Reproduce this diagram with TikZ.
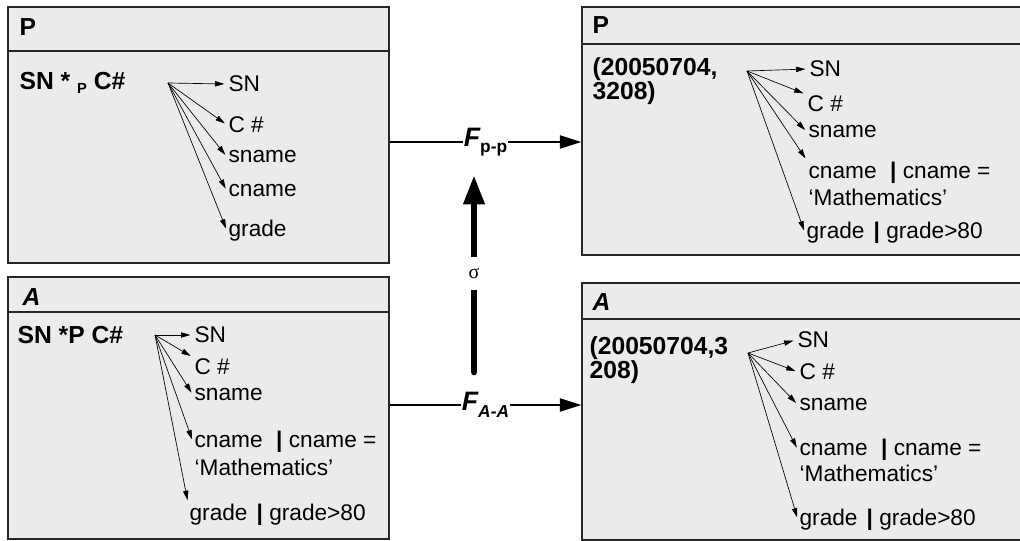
\documentclass[tikz,border=0pt]{standalone}
\usepackage{fontspec}
\setmainfont{Liberation Sans}
\newfontfamily\sigfont{Liberation Serif}
\usepackage{tikz}
\usetikzlibrary{arrows.meta, calc, fit}
\definecolor{boxgray}{RGB}{235,235,235}

\begin{document}
\begin{tikzpicture} [x=0.75pt, y=-0.75pt,
    font=\fontsize{17}{18}\selectfont,
    el/.style = {inner sep=1pt, anchor=west},
    key/.style = {inner sep=1pt, anchor=west, align=left, font=\fontsize{18.5}{18}\selectfont\bfseries},
    ]
        \tikzset{BoxStyle/.style = {draw = black!85, line width = 1.2pt, fill = boxgray, inner sep = 0}}
        \tikzset{HeadLine/.style = {draw = black!85, line width = 1.2pt}}
        \tikzset{attr/.style = {-{Triangle[length=7pt,width=4pt]}, line width = 0.5pt, shorten > = 2pt}}
        \tikzset{flow/.style = {-{Triangle[length=16pt,width=10pt]}, line width = 0.8pt}}
        \tikzset{flab/.style = {fill = white, inner sep = 0.5pt}}
    \useasboundingbox (0,0) rectangle (1020,541);

    % boxes
    \node[BoxStyle, fit={(8,7) (389,263)}] (lp) {};
    \node[BoxStyle, fit={(582,7) (1024,255)}] (rp) {};
    \node[BoxStyle, fit={(8,277) (389,539)}] (la) {};
    \node[BoxStyle, fit={(582,283) (1024,540)}] (ra) {};
    \draw[HeadLine] ($(lp.north west)+(0,45)$) -- ($(lp.north east)+(0,45)$);
    \draw[HeadLine] ($(rp.north west)+(0,38)$) -- ($(rp.north east)+(0,38)$);
    \draw[HeadLine] ($(la.north west)+(0,36)$) -- ($(la.north east)+(0,36)$);
    \draw[HeadLine] ($(ra.north west)+(0,37)$) -- ($(ra.north east)+(0,37)$);

    \node[key] (hlp) at (18,27) {P};
    \node[key] (hrp) at (591,25) {P};
    \node[key] (hla) at (21,297) {\itshape A};
    \node[key] (hra) at (591,302) {\itshape A};

    % left P
    \node[key] (klp) at (18,83) {SN * \raisebox{-3pt}{\fontsize{11}{11}\selectfont P} C\#};
    \coordinate (olp) at (168,83);
    \node[el] (lp1) at (227,84) {SN};
    \node[el] (lp2) at (227,125) {C \#};
    \node[el] (lp3) at (227,157) {sname};
    \node[el] (lp4) at (227,191) {cname};
    \node[el] (lp5) at (227,231) {grade};

    % right P
    \node[key] (krp) at (591,81) {(20050704,\\3208)};
    \coordinate (orp) at (747,71);
    \node[el] (rp1) at (808,69) {SN};
    \node[el] (rp2) at (806,104) {C \#};
    \node[el] (rp3) at (807,132) {sname};
    \node[el] (rp4) at (807,173) {cname\hspace{0.6em}\textbf{|} cname =};
    \node[el] (rp6) at (807,197) {‘Mathematics’};
    \node[el] (rp5) at (805,233) {grade\hspace{0.4em}\textbf{|} grade>80};

    % left A
    \node[key] (kla) at (16,335) {SN *P C\#};
    \coordinate (ola) at (155,335);
    \node[el] (la1) at (193,335) {SN};
    \node[el] (la2) at (193,367) {C \#};
    \node[el] (la3) at (193,395) {sname};
    \node[el] (la4) at (193,442) {cname\hspace{0.6em}\textbf{|} cname =};
    \node[el] (la6) at (193,467) {‘Mathematics’};
    \node[el] (la5) at (188,515) {grade\hspace{0.4em}\textbf{|} grade>80};

    % right A
    \node[key] (kra) at (588,360) {(20050704,3\\208)};
    \coordinate (ora) at (748,353);
    \node[el] (ra1) at (796,340) {SN};
    \node[el] (ra2) at (798,372) {C \#};
    \node[el] (ra3) at (798,405) {sname};
    \node[el] (ra4) at (798,450) {cname\hspace{0.6em}\textbf{|} cname =};
    \node[el] (ra6) at (798,473) {‘Mathematics’};
    \node[el] (ra5) at (798,520) {grade\hspace{0.4em}\textbf{|} grade>80};

\path[attr]
    (olp) edge (lp1.west)
    (olp) edge (lp2.west)
    (olp) edge (lp3.west)
    (olp) edge (lp4.west)
    (olp) edge (lp5.west)
    (orp) edge (rp1.west)
    (orp) edge (rp2.north west)
    (orp) edge (rp3.west)
    (orp) edge (rp4.north west)
    (orp) edge (rp5.west)
    (ola) edge (la1.west)
    (ola) edge (la2.north west)
    (ola) edge (la3.west)
    (ola) edge (la4.west)
    (ola) edge (la5.north west)
    (ora) edge (ra1.west)
    (ora) edge (ra2.west)
    (ora) edge (ra3.west)
    (ora) edge (ra4.west)
    (ora) edge (ra5.west);

    % mappings
    \coordinate (fpp) at (485,142);
    \coordinate (faa) at (485,405);
    \draw[flow] (lp.east |- fpp) -- node[flab] {{\fontsize{20}{20}\selectfont\bfseries\itshape F}\raisebox{-5pt}{\fontsize{13}{13}\selectfont\bfseries p-p}} (rp.west |- fpp);
    \draw[flow] (la.east |- faa) -- node[flab] {{\fontsize{20}{20}\selectfont\bfseries\itshape F}\raisebox{-5pt}{\fontsize{13}{13}\selectfont\bfseries\itshape A-A}} (ra.west |- faa);

    \coordinate (sb) at (474,372);
    \coordinate (st) at (474,175);
    \draw[line width=5pt, line cap=round, -{Triangle[length=22pt,width=15pt]}] (sb) -- node[fill=white, minimum height=25pt, inner sep=1pt] {\sigfont\fontsize{15}{15}\selectfont σ} (st);

\end{tikzpicture}
\end{document}
